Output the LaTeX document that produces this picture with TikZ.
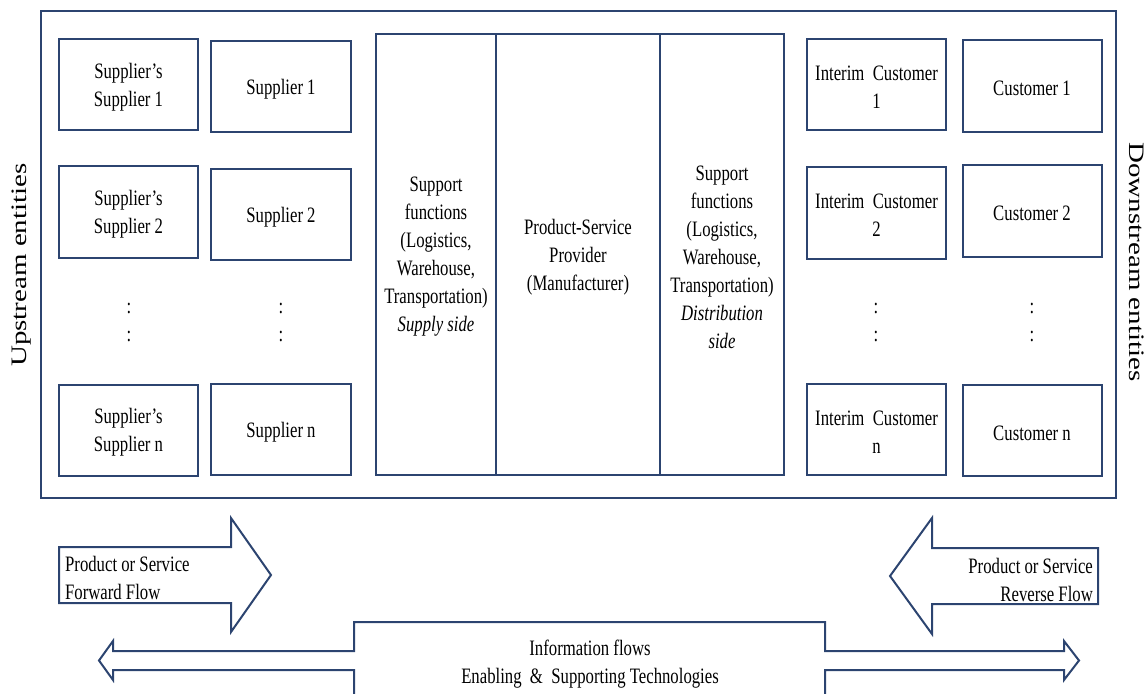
\documentclass[tikz,border=0pt]{standalone}
\usepackage{fontspec}
\setmainfont{Liberation Serif}
\definecolor{navy}{RGB}{44,68,112}
\begin{document}
\begin{tikzpicture}[x=1pt,y=-1pt,
  box/.style={draw=navy, line width=2pt, rectangle, inner sep=0pt, outer sep=0pt},
  txt/.style={xscale=0.76, yshift=-2.5pt, transform shape, align=center, inner sep=0pt,
              font=\fontsize{22}{28}\selectfont},
  flow/.style={draw=navy, line width=2pt, line join=miter},
  side/.style={inner sep=0pt, font=\fontsize{29}{34}\selectfont}]
\useasboundingbox (0,0) rectangle (1147,693);

% outer frame
\node[box, minimum width=1075pt, minimum height=487pt] (frame) at (578.5,254.5) {};

% supplier's suppliers
\node[box, minimum width=139pt, minimum height=91pt] (ss1) at (128.5,84.5) {};
\node[box, minimum width=139pt, minimum height=92pt] (ss2) at (128.5,212) {};
\node[box, minimum width=139pt, minimum height=91pt] (ssn) at (128.5,430) {};
% suppliers
\node[box, minimum width=140pt, minimum height=91pt] (s1) at (281,86.5) {};
\node[box, minimum width=140pt, minimum height=91pt] (s2) at (281,214.5) {};
\node[box, minimum width=140pt, minimum height=91pt] (sn) at (281,429.5) {};
% interim customers
\node[box, minimum width=139pt, minimum height=91pt] (ic1) at (876.5,84.5) {};
\node[box, minimum width=139pt, minimum height=92pt] (ic2) at (876.5,213) {};
\node[box, minimum width=139pt, minimum height=91pt] (icn) at (876.5,429.5) {};
% customers
\node[box, minimum width=139pt, minimum height=91pt] (c1) at (1032,86) {};
\node[box, minimum width=139pt, minimum height=92pt] (c2) at (1032,211) {};
\node[box, minimum width=139pt, minimum height=91pt] (cn) at (1032,430.5) {};

% middle columns
\node[box, minimum width=120pt, minimum height=441pt] (sup) at (436,254.5) {};
\node[box, minimum width=164pt, minimum height=441pt] (man) at (578,254.5) {};
\node[box, minimum width=124pt, minimum height=441pt] (dis) at (722,254.5) {};

% texts
\node[txt] (ss1t) at (ss1.center) {Supplier’s\\Supplier 1};
\node[txt] (ss2t) at (ss2.center) {Supplier’s\\Supplier 2};
\node[txt] (ssnt) at (ssn.center) {Supplier’s\\Supplier n};
\node[txt] (s1t) at (s1.center) {Supplier 1};
\node[txt] (s2t) at (s2.center) {Supplier 2};
\node[txt] (snt) at (sn.center) {Supplier n};
\node[txt] (ic1t) at (ic1.center) {Interim\ \ Customer\\1};
\node[txt] (ic2t) at (ic2.center) {Interim\ \ Customer\\2};
\node[txt] (icnt) at (icn.center) {Interim\ \ Customer\\n};
\node[txt] (c1t) at (c1.center) {Customer 1};
\node[txt] (c2t) at (c2.center) {Customer 2};
\node[txt] (cnt) at (cn.center) {Customer n};
\node[txt] (dots1) at (129,320) {:\\:};
\node[txt] (dots2) at (281,320) {:\\:};
\node[txt] (dots3) at (876,320) {:\\:};
\node[txt] (dots4) at (1032,320) {:\\:};

\node[txt] (supt) at (sup.center) {Support\\functions\\(Logistics,\\Warehouse,\\Transportation)\\\textit{Supply side}};
\node[txt] (mant) at (man.center) {Product-Service\\Provider\\(Manufacturer)};
\node[txt] (dist) at (dis.center) {Support\\functions\\(Logistics,\\Warehouse,\\Transportation)\\\textit{Distribution}\\\textit{side}};

% side labels
\node[side, rotate=90] (up) at (22,265) {\scalebox{1}[0.76]{Upstream entities}};
\node[side, rotate=-90] (down) at (1137,262) {\scalebox{1}[0.76]{Downstream entities}};

% forward flow arrow
\draw[flow] (59,547) -- (231,547) -- (231,518) -- (271,575) -- (231,632) -- (231,603) -- (59,603) -- cycle;
\node[txt, anchor=west, align=left] (fwd) at (65,575) {Product or Service\\Forward Flow};

% reverse flow arrow
\draw[flow] (1098,548) -- (932,548) -- (932,518) -- (890,576) -- (932,634) -- (932,604) -- (1098,604) -- cycle;
\node[txt, anchor=east, align=right] (rev) at (1093,577) {Product or Service\\Reverse Flow};

% information flows
\draw[flow] (354,700) -- (354,670) -- (113,670) -- (113,680) -- (99,660.5) -- (113,641) -- (113,651) -- (354,651) -- (354,622)
  -- (825,622) -- (825,651) -- (1064,651) -- (1064,641) -- (1079,660.5) -- (1064,680) -- (1064,670) -- (825,670) -- (825,700);
\node[txt] (info) at (590,662) {Information flows\\Enabling\ \ \&\ \ Supporting Technologies};
\end{tikzpicture}
\end{document}
